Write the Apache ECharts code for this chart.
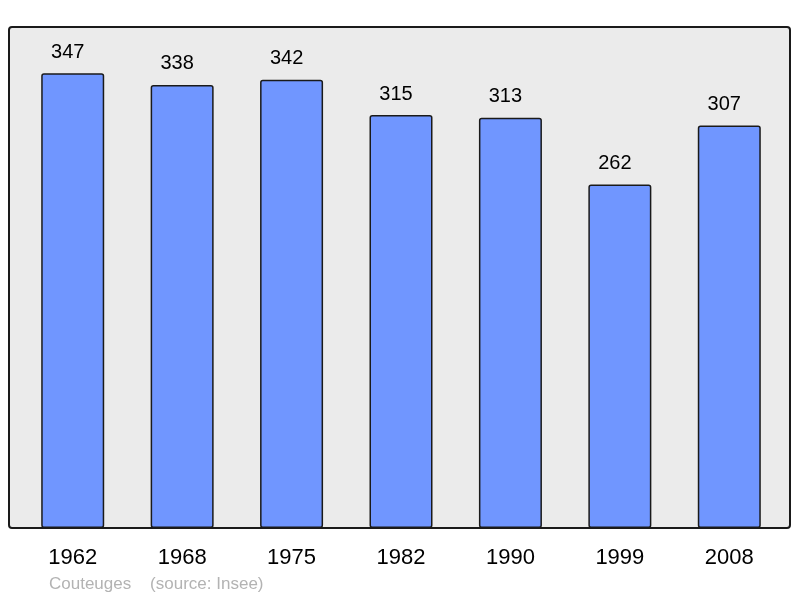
<!DOCTYPE html>
<html><head><meta charset="utf-8">
<script src="https://cdn.jsdelivr.net/npm/echarts@6/dist/echarts.min.js"></script>
<style>html,body{margin:0;padding:0;background:#fff}#c{width:800px;height:598px}</style>
</head><body><div id="c"></div>
<script>
const years = ['1962','1968','1975','1982','1990','1999','2008'];
const population = [347, 338, 342, 315, 313, 262, 307];
const footer = 'Couteuges    (source: Insee)';

const chart = echarts.init(document.getElementById('c'));
chart.setOption({
  animation: false,
  backgroundColor: '#ffffff',
  graphic: [{
    type: 'rect', z: -10, silent: true,
    shape: { x: 9, y: 27, width: 781, height: 501, r: 3 },
    style: { fill: '#ebebeb', stroke: '#1a1a1a', lineWidth: 2 }
  }, {
    type: 'text', left: 49, top: 576,
    style: { text: footer, fill: '#b3b3b3', font: '17px "Liberation Sans", Arial, sans-serif' }
  }],
  grid: { left: 18, width: 766, top: 27, bottom: 70 },
  xAxis: {
    type: 'category', data: years,
    axisLine: { show: false }, axisTick: { show: false },
    axisLabel: { color: '#000', fontSize: 22, fontFamily: '"Liberation Sans", Arial, sans-serif', margin: 19 }
  },
  yAxis: {
    type: 'value', min: 0, max: 382.2,
    show: false, splitLine: { show: false }
  },
  series: [{
    type: 'bar', data: population, barWidth: 63,
    itemStyle: { color: '#7096ff', borderColor: '#1a1a1a', borderWidth: 1.5, borderRadius: 2 },
    label: { show: true, position: 'top', distance: 11, offset: [-5, 0], color: '#000', fontSize: 20,
             fontFamily: '"Liberation Sans", Arial, sans-serif' }
  }]
});
</script></body></html>
